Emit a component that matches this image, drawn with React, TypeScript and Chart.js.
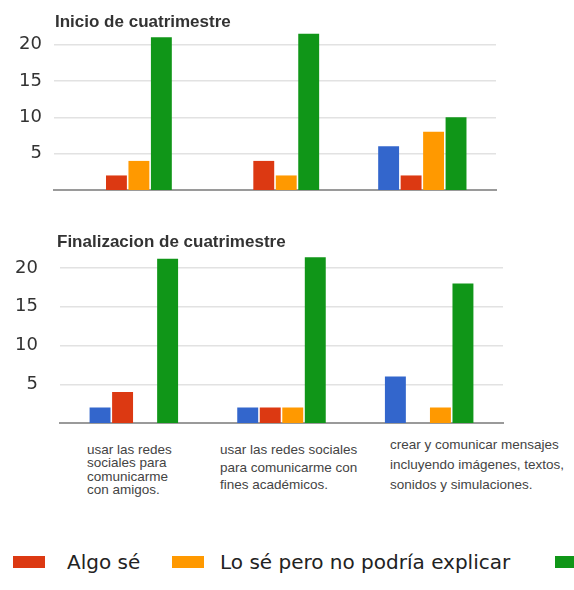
import React, { useEffect, useRef } from "react";
import { Chart, registerables } from "chart.js";

Chart.register(...registerables);

// ---------- data ----------
const categories = [
  "usar las redes sociales para comunicarme con amigos.",
  "usar las redes sociales para comunicarme con fines académicos.",
  "crear y comunicar mensajes incluyendo imágenes, textos, sonidos y simulaciones.",
];
const categoryLines = [
  ["usar las redes", "sociales para", "comunicarme", "con amigos."],
  ["usar las redes sociales", "para comunicarme con", "fines académicos."],
  ["crear y comunicar mensajes", "incluyendo imágenes, textos,", "sonidos y simulaciones."],
];
const seriesNames = ["No sé", "Algo sé", "Lo sé pero no podría explicar", "Lo sé y podría explicar"];
const panelTitles = ["Inicio de cuatrimestre", "Finalizacion de cuatrimestre"];

const inicioNoSe = [0, 0, 6];
const inicioAlgoSe = [2, 4, 2];
const inicioLoSePero = [4, 2, 8];
const inicioLoSeY = [21, 21.5, 10];

const finNoSe = [2, 2, 6];
const finAlgoSe = [4, 2, 0];
const finLoSePero = [0, 2, 2];
const finLoSeY = [21.2, 21.4, 18];

const yTickValues = [5, 10, 15, 20];
const yMax = 22;

// legend shows these series (blue one is outside the visible crop)
const legendSeries = [1, 2, 3];

// ---------- styles ----------
const seriesColors = ["#3366cc", "#dc3912", "#ff9900", "#109618"];

type PanelProps = {
  series: number[][];
  top: number;
  height: number;
  areaLeft: number;
  areaRight: number;
  padTop: number;
  padBottom: number;
  tickPad: number;
};

function BarPanel({ series, top, height, areaLeft, areaRight, padTop, padBottom, tickPad }: PanelProps) {
  const ref = useRef<HTMLCanvasElement | null>(null);
  useEffect(() => {
    if (!ref.current) return;
    const chart = new Chart(ref.current, {
      type: "bar",
      data: {
        labels: categories,
        datasets: series.map((vals, i) => ({
          label: seriesNames[i],
          data: vals,
          backgroundColor: seriesColors[i],
          borderWidth: 0,
          categoryPercentage: 0.61,
          barPercentage: 0.93,
        })),
      },
      options: {
        animation: false,
        responsive: false,
        maintainAspectRatio: false,
        layout: { padding: { top: padTop, bottom: padBottom, left: 0, right: 574 - areaRight } },
        plugins: { legend: { display: false }, tooltip: { enabled: false }, title: { display: false } },
        scales: {
          x: {
            ticks: { display: false },
            grid: { display: false, drawTicks: false },
            border: { display: true, color: "#9a9a9a", width: 2 },
            afterFit: (s: any) => {
              s.height = 0;
              s.paddingLeft = 0;
              s.paddingRight = 0;
            },
          },
          y: {
            min: 0,
            max: yMax,
            afterBuildTicks: (s: any) => {
              s.ticks = yTickValues.map((v) => ({ value: v }));
            },
            ticks: {
              padding: tickPad,
              color: "#333",
              font: { family: "DejaVu Sans", size: 18 },
            },
            grid: { color: "#e2e2e2", lineWidth: 1.5, drawTicks: false },
            border: { display: false },
            afterFit: (s: any) => {
              s.width = areaLeft;
              s.paddingTop = 0;
              s.paddingBottom = 0;
            },
          },
        },
      },
    });
    return () => chart.destroy();
  }, []);
  return (
    <canvas
      ref={ref}
      width={574}
      height={height}
      style={{ position: "absolute", left: 0, top, width: 574, height, display: "block" }}
    />
  );
}

const titleStyle: React.CSSProperties = {
  position: "absolute",
  fontFamily: "'Liberation Sans', Arial, sans-serif",
  fontWeight: "bold",
  fontSize: 17,
  lineHeight: "20px",
  color: "#333",
  whiteSpace: "nowrap",
};

const catLabelLayout = [
  { left: 87, top: 443, lh: 13.3 },
  { left: 220, top: 441, lh: 17.5 },
  { left: 390, top: 435, lh: 20 },
];

const legendLayout = [
  { sw: 13, tx: 67 },
  { sw: 172, tx: 220 },
  { sw: 555, tx: 600 },
];

export default function App() {
  return (
    <div
      style={{
        position: "fixed",
        left: 0,
        top: 0,
        width: 574,
        height: 590,
        overflow: "hidden",
        background: "#fff",
      }}
    >
      <BarPanel
        series={[inicioNoSe, inicioAlgoSe, inicioLoSePero, inicioLoSeY]}
        top={0}
        height={200}
        areaLeft={54}
        areaRight={496}
        padTop={30}
        padBottom={10}
        tickPad={12}
      />
      <BarPanel
        series={[finNoSe, finAlgoSe, finLoSePero, finLoSeY]}
        top={230}
        height={200}
        areaLeft={60}
        areaRight={503}
        padTop={22.5}
        padBottom={7}
        tickPad={22}
      />
      <div style={{ ...titleStyle, left: 55, top: 12 }}>{panelTitles[0]}</div>
      <div style={{ ...titleStyle, left: 57, top: 232 }}>{panelTitles[1]}</div>

      {categoryLines.map((lines, i) => (
        <div
          key={i}
          style={{
            position: "absolute",
            left: catLabelLayout[i].left,
            top: catLabelLayout[i].top,
            fontFamily: "'Liberation Sans', Arial, sans-serif",
            fontSize: 13.5,
            lineHeight: catLabelLayout[i].lh + "px",
            color: "#444",
            whiteSpace: "nowrap",
          }}
        >
          {lines.map((l, j) => (
            <div key={j}>{l}</div>
          ))}
        </div>
      ))}

      {legendSeries.map((si, k) => (
        <React.Fragment key={si}>
          <div
            style={{
              position: "absolute",
              left: legendLayout[k].sw,
              top: 556,
              width: 32,
              height: 12,
              background: seriesColors[si],
            }}
          />
          <div
            style={{
              position: "absolute",
              left: legendLayout[k].tx,
              top: 550,
              fontFamily: "'DejaVu Sans', Verdana, sans-serif",
              fontSize: 20,
              lineHeight: "24px",
              color: "#222",
              whiteSpace: "nowrap",
            }}
          >
            {seriesNames[si]}
          </div>
        </React.Fragment>
      ))}
    </div>
  );
}
